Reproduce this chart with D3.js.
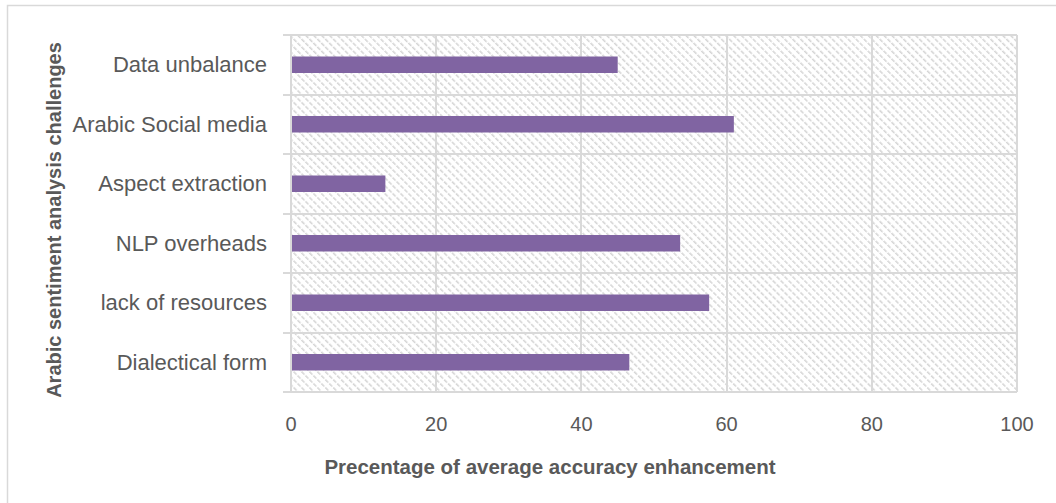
<!DOCTYPE html>
<html>
<head>
<meta charset="utf-8">
<script src="https://cdn.jsdelivr.net/npm/d3@7"></script>
<style>
  html, body { margin: 0; padding: 0; background: #fff; overflow: hidden; }
  svg text { font-family: "Liberation Sans", "DejaVu Sans", sans-serif; }
</style>
</head>
<body>
<svg id="chart" width="1056" height="503"></svg>
<script>
// Challenges listed top to bottom
const categories = ["Data unbalance ", "Arabic Social media", "Aspect extraction", "NLP overheads ", "lack of resources", "Dialectical form"];
const values = [45, 61, 13, 53.6, 57.6, 46.6];
const xTicks = [0, 20, 40, 60, 80, 100];
const xTitle = "Precentage of average accuracy enhancement";
const yTitle = "Arabic sentiment analysis challenges";

const svg = d3.select("#chart");
const textColor = "#595959";
const gridColor = "#d9d9d9";
const barColor = "#8064a2";

const plotLeft = 291, plotRight = 1017, plotTop = 35, plotBottom = 392;

// outer frame (runs past the right and bottom edges)
svg.append("rect")
  .attr("x", 7.5).attr("y", 5.5).attr("width", 1100).attr("height", 600)
  .attr("fill", "#fff").attr("stroke", gridColor).attr("stroke-width", 1.5);

// diagonal hatch used as the plot background
const defs = svg.append("defs");
const hatchStep = 5.6;
const pat = defs.append("pattern")
  .attr("id", "hatch").attr("patternUnits", "userSpaceOnUse")
  .attr("width", hatchStep).attr("height", hatchStep)
  .attr("patternTransform", "rotate(-45)");
pat.append("line")
  .attr("x1", 0.8).attr("y1", 0).attr("x2", 0.8).attr("y2", hatchStep)
  .attr("stroke", "#cdcdcd").attr("stroke-width", 1.3)
  .attr("stroke-dasharray", "4.2,1.4");

const x = d3.scaleLinear().domain([0, 100]).range([plotLeft, plotRight]);
const y = d3.scaleBand().domain(categories).range([plotTop, plotBottom]).paddingInner(0).paddingOuter(0);

svg.append("rect")
  .attr("x", plotLeft).attr("y", plotTop).attr("width", plotRight - plotLeft).attr("height", plotBottom - plotTop)
  .attr("fill", "url(#hatch)");

// vertical gridlines
svg.append("g").selectAll("line").data(xTicks).join("line")
  .attr("x1", d => Math.round(x(d))).attr("x2", d => Math.round(x(d)))
  .attr("y1", plotTop).attr("y2", plotBottom)
  .attr("stroke", gridColor).attr("stroke-width", 2);

// category boundaries with outward tick marks
const bounds = categories.map(c => y(c)).concat([plotBottom]);
svg.append("g").selectAll("line").data(bounds).join("line")
  .attr("x1", plotLeft - 8).attr("x2", plotRight)
  .attr("y1", d => Math.round(d)).attr("y2", d => Math.round(d))
  .attr("stroke", gridColor).attr("stroke-width", 2);

// bars
const barH = 16.5;
svg.append("g").selectAll("rect").data(categories).join("rect")
  .attr("x", x(0) + 1)
  .attr("y", d => y(d) + y.bandwidth() / 2 - barH / 2)
  .attr("width", (d, i) => x(values[i]) - x(0) - 1)
  .attr("height", barH)
  .attr("fill", barColor);

// category labels
svg.append("g").selectAll("text").data(categories).join("text")
  .attr("x", 267).attr("y", d => y(d) + y.bandwidth() / 2)
  .attr("dy", "0.35em").attr("text-anchor", "end")
  .attr("font-size", 22).attr("fill", textColor)
  .text(d => d);

// x tick labels
svg.append("g").selectAll("text").data(xTicks).join("text")
  .attr("x", d => x(d)).attr("y", 424)
  .attr("dy", "0.35em").attr("text-anchor", "middle")
  .attr("font-size", 20).attr("fill", textColor)
  .text(d => d);

// axis titles
svg.append("text")
  .attr("x", 550).attr("y", 467)
  .attr("dy", "0.35em").attr("text-anchor", "middle")
  .attr("font-size", 20.5).attr("font-weight", "bold").attr("fill", textColor)
  .text(xTitle);

svg.append("text")
  .attr("transform", "translate(54, 220) rotate(-90)")
  .attr("dy", "0.35em").attr("text-anchor", "middle")
  .attr("font-size", 20).attr("font-weight", "bold").attr("fill", textColor)
  .text(yTitle);
</script>
</body>
</html>
